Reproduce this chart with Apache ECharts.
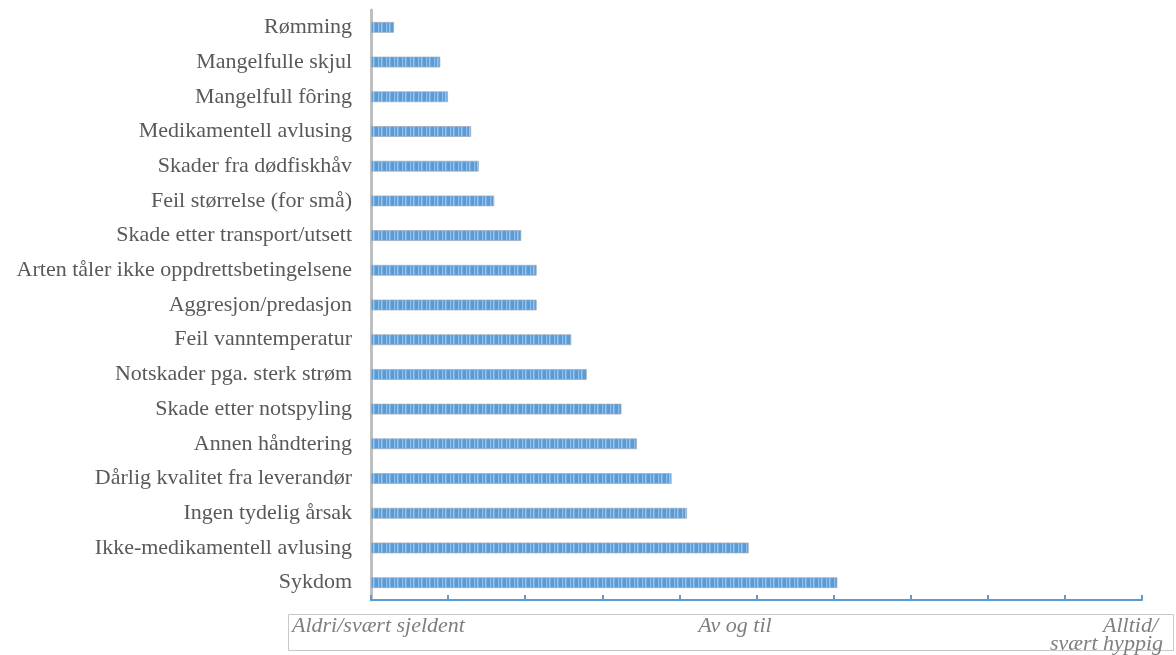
<!DOCTYPE html>
<html>
<head>
<meta charset="utf-8">
<script src="https://cdn.jsdelivr.net/npm/echarts@6/dist/echarts.min.js"></script>
<style>
html,body{margin:0;padding:0;background:#fff;}
#chart{width:1176px;height:655px;}
</style>
</head>
<body>
<div id="chart"></div>
<script>
const categories = [
  "Rømming",
  "Mangelfulle skjul",
  "Mangelfull fôring",
  "Medikamentell avlusing",
  "Skader fra dødfiskhåv",
  "Feil størrelse (for små)",
  "Skade etter transport/utsett",
  "Arten tåler ikke oppdrettsbetingelsene",
  "Aggresjon/predasjon",
  "Feil vanntemperatur",
  "Notskader pga. sterk strøm",
  "Skade etter notspyling",
  "Annen håndtering",
  "Dårlig kvalitet fra leverandør",
  "Ingen tydelig årsak",
  "Ikke-medikamentell avlusing",
  "Sykdom"
];
const values = [0.3, 0.9, 1.0, 1.3, 1.4, 1.6, 1.95, 2.15, 2.15, 2.6, 2.8, 3.25, 3.45, 3.9, 4.1, 4.9, 6.05];
const scaleLabels = ["Aldri/svært sjeldent", "Av og til", "Alltid/", "svært hyppig"];

// striped fill pattern
const pc = document.createElement('canvas');
pc.width = 8; pc.height = 4;
const pctx = pc.getContext('2d');
const stripes = ['#5b9bd5','#5b9bd5','#8dbce8','#6aa6dc','#5b9bd5','#9cc6ee','#78afe1','#5b9bd5'];
stripes.forEach((c,i)=>{pctx.fillStyle=c;pctx.fillRect(i,0,1,4);});

const chart = echarts.init(document.getElementById('chart'), null, {renderer:'canvas'});
const serif = "'Liberation Serif', 'DejaVu Serif', serif";
chart.setOption({
  animation: false,
  backgroundColor: '#ffffff',
  grid: {left: 371, right: 34, top: 10, bottom: 55, containLabel: false},
  xAxis: {
    type: 'value', min: 0, max: 10, interval: 1,
    axisLabel: {show: false},
    splitLine: {show: false},
    axisLine: {show: true, lineStyle: {color: '#5b9bd5', width: 2}},
    axisTick: {show: true, inside: true, length: 5, lineStyle: {color: '#5b9bd5', width: 2}}
  },
  yAxis: {
    type: 'category', inverse: true, data: categories,
    axisLine: {show: true, lineStyle: {color: '#bfbfbf', width: 3}},
    axisTick: {show: false},
    axisLabel: {color: '#595959', fontFamily: serif, fontSize: 22, margin: 19}
  },
  series: [{
    type: 'bar', data: values, barWidth: 11,
    itemStyle: {color: {image: pc, repeat: 'repeat'}, borderColor: 'rgba(160,170,185,0.7)', borderWidth: 1}
  }],
  graphic: [
    {type: 'rect', shape: {x: 288.5, y: 614.5, width: 885, height: 36}, style: {fill: 'none', stroke: '#c8c8c8', lineWidth: 1}, silent: true},
    {type: 'text', x: 292, y: 626, style: {text: scaleLabels[0], fill: '#7f7f7f', font: "italic 22px " + serif, textAlign: 'left', textVerticalAlign: 'middle'}},
    {type: 'text', x: 735, y: 626, style: {text: scaleLabels[1], fill: '#7f7f7f', font: "italic 22px " + serif, textAlign: 'center', textVerticalAlign: 'middle'}},
    {type: 'text', x: 1158, y: 626, style: {text: scaleLabels[2], fill: '#7f7f7f', font: "italic 22px " + serif, textAlign: 'right', textVerticalAlign: 'middle'}},
    {type: 'text', x: 1163, y: 644, style: {text: scaleLabels[3], fill: '#7f7f7f', font: "italic 22px " + serif, textAlign: 'right', textVerticalAlign: 'middle'}}
  ]
});
</script>
</body>
</html>
